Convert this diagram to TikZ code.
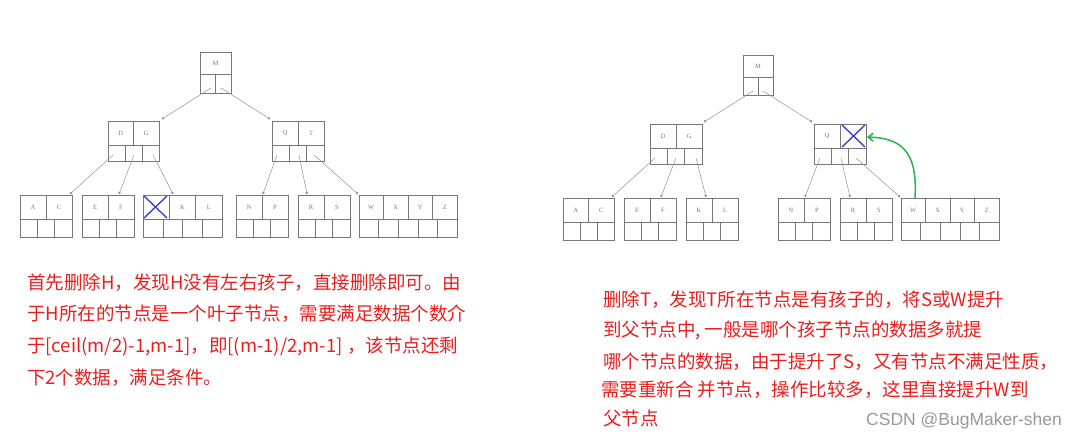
\documentclass[tikz,border=0pt]{standalone}
\usepackage{fontspec}
\setmainfont{Liberation Serif}
\newfontfamily\cjk{Noto Sans CJK SC}
\newfontfamily\wm{Liberation Sans}
\usetikzlibrary{fit,arrows.meta}
\definecolor{boxc}{RGB}{120,120,120}
\definecolor{redt}{RGB}{235,30,30}
\definecolor{bluex}{RGB}{60,70,205}
\definecolor{greena}{RGB}{40,180,70}
\tikzset{
  ptr/.style={draw=boxc!80, line width=0.5pt, -{Circle[length=2.5pt]}},
  ktext/.style={font=\fontsize{6.5}{7}\selectfont, text=boxc},
  note/.style={anchor=west, inner sep=0, text=redt, font=\cjk\fontsize{18.5}{20}\selectfont},
  crossl/.style={draw=bluex, line width=1.4pt}
}
% #1 name #2 x1 #3 x2 #4 ytop #5 ymid #6 ybot #7 keys #8 n
\newcommand\btn[8]{%
  \node[inner sep=0, fit={(#2,#4)(#3,#6)}, draw=boxc, line width=0.5pt] (#1) {};
  \draw[boxc, line width=0.5pt] (#2,#5) -- (#3,#5);
  \foreach \k [count=\i] in {#7} {
    \pgfmathsetmacro\kx{#2+(\i-0.5)*(#3-#2)/#8}
    \node[ktext] at (\kx,{(#4+#5)/2}) {\k};
    \pgfmathsetmacro\dx{#2+\i*(#3-#2)/#8}
    \ifnum\i<#8 \draw[boxc, line width=0.5pt] (\dx,#4) -- (\dx,#5);\fi
    \pgfmathsetmacro\px{#2+\i*(#3-#2)/(#8+1)}
    \draw[boxc, line width=0.5pt] (\px,#5) -- (\px,#6);
  }
}
\begin{document}
\begin{tikzpicture}[x=1pt,y=-1pt]
\useasboundingbox[fill=white] (0,0) rectangle (1088,441);
% ---- left tree
\btn{lM}{200}{231}{52}{74}{93}{M}{1}
\btn{lDG}{108}{159}{121}{145}{161}{D,G}{2}
\btn{lQT}{272}{324}{121}{145}{161}{Q,T}{2}
\btn{lAC}{20}{72}{195}{219}{237}{A,C}{2}
\btn{lEF}{82}{134}{195}{219}{237}{E,F}{2}
\btn{lHKL}{143}{222}{195}{219}{237}{{},K,L}{3}
\btn{lNP}{236}{288}{195}{219}{237}{N,P}{2}
\btn{lRS}{298}{350}{195}{219}{237}{R,S}{2}
\btn{lWZ}{359}{457}{195}{219}{237}{W,X,Y,Z}{4}
\coordinate (a1) at (211,88); \coordinate (b1) at (162,119);
\coordinate (a2) at (221,88); \coordinate (b2) at (270,119);
\draw[ptr] (a1) -- (b1); \draw[ptr] (a2) -- (b2);
\coordinate (c1) at (113,155); \coordinate (d1) at (70,194);
\coordinate (c2) at (134,155); \coordinate (d2) at (119,194);
\coordinate (c3) at (153,155); \coordinate (d3) at (173,194);
\coordinate (c4) at (277,155); \coordinate (d4) at (263,194);
\coordinate (c5) at (299,155); \coordinate (d5) at (307,194);
\coordinate (c6) at (314,155); \coordinate (d6) at (358,194);
\foreach \i in {1,...,6} \draw[ptr] (c\i) -- (d\i);
\coordinate (x1) at (144,196); \coordinate (x2) at (167,218);
\coordinate (x3) at (144,218); \coordinate (x4) at (167,196);
\draw[crossl] (x1) -- (x2); \draw[crossl] (x3) -- (x4);
% ---- right tree
\btn{rM}{743}{773}{55}{77}{95}{M}{1}
\btn{rDG}{650}{702}{124}{148}{164}{D,G}{2}
\btn{rQT}{814}{866}{124}{148}{164}{Q,{}}{2}
\btn{rAC}{563}{614}{198}{222}{240}{A,C}{2}
\btn{rEF}{624}{676}{198}{222}{240}{E,F}{2}
\btn{rKL}{686}{738}{198}{222}{240}{K,L}{2}
\btn{rNP}{778}{830}{198}{222}{240}{N,P}{2}
\btn{rRS}{840}{892}{198}{222}{240}{R,S}{2}
\btn{rWZ}{901}{999}{198}{222}{240}{W,X,Y,Z}{4}
\coordinate (e1) at (753,91); \coordinate (f1) at (704,122);
\coordinate (e2) at (763,91); \coordinate (f2) at (812,122);
\draw[ptr] (e1) -- (f1); \draw[ptr] (e2) -- (f2);
\coordinate (g1) at (655,158); \coordinate (h1) at (612,197);
\coordinate (g2) at (676,158); \coordinate (h2) at (661,197);
\coordinate (g3) at (696,158); \coordinate (h3) at (706,197);
\coordinate (g4) at (820,158); \coordinate (h4) at (805,197);
\coordinate (g5) at (841,158); \coordinate (h5) at (850,197);
\coordinate (g6) at (856,158); \coordinate (h6) at (900,197);
\foreach \i in {1,...,6} \draw[ptr] (g\i) -- (h\i);
\coordinate (y1) at (842,125); \coordinate (y2) at (865,147);
\coordinate (y3) at (842,147); \coordinate (y4) at (865,125);
\draw[crossl] (y1) -- (y2); \draw[crossl] (y3) -- (y4);
\coordinate (gs) at (915,198); \coordinate (ge) at (867,137);
\draw[greena, line width=1.5pt, -{Straight Barb[length=5pt,width=8pt]}] (gs) .. controls (918,150) and (900,138) .. (ge);
% ---- texts
\node[note] (t1) at (27,283) {首先删除H，发现H没有左右孩子，直接删除即可。由};
\node[note] (t2) at (27,314) {于H所在的节点是一个叶子节点，需要满足数据个数介};
\node[note] (t3) at (27,346) {于[ceil(m/2)-1,m-1]，即[(m-1)/2,m-1] ，该节点还剩};
\node[note] (t4) at (27,378) {下2个数据，满足条件。};
\node[note] (u1) at (603,300) {删除T，发现T所在节点是有孩子的，将S或W提升};
\node[note] (u2) at (603,330) {到父节点中, 一般是哪个孩子节点的数据多就提};
\node[note] (u3) at (603,362) {哪个节点的数据，由于提升了S，又有节点不满足性质，};
\node[note] (u4) at (601,390) {需要重新合 并节点，操作比较多，这里直接提升W到};
\node[note] (u5) at (603,418) {父节点};
\node[anchor=west, inner sep=0, text=black!40, font=\wm\fontsize{17.5}{19}\selectfont] (wm) at (866,421) {CSDN @BugMaker-shen};
\end{tikzpicture}
\end{document}
